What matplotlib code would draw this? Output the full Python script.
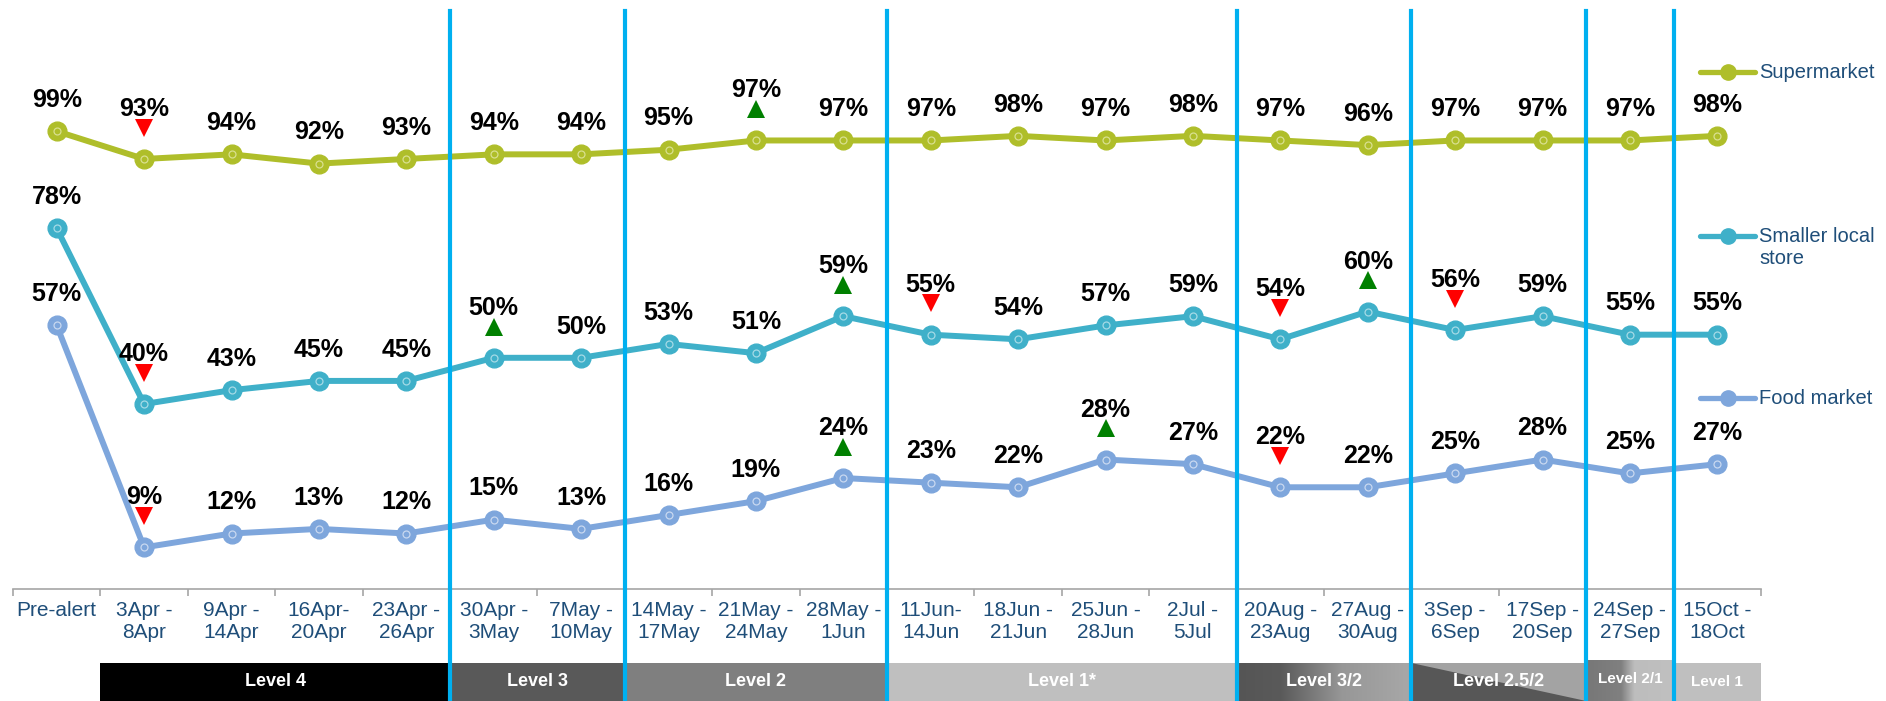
import numpy as np
import matplotlib
matplotlib.use("Agg")
import matplotlib.pyplot as plt
from matplotlib.lines import Line2D
from matplotlib.patches import Polygon, Rectangle
from matplotlib.colors import LinearSegmentedColormap
from matplotlib.transforms import offset_copy

# ---------------- data ----------------
periods = ["Pre-alert", "3Apr -\n8Apr", "9Apr -\n14Apr", "16Apr-\n20Apr", "23Apr -\n26Apr",
           "30Apr -\n3May", "7May -\n10May", "14May -\n17May", "21May -\n24May", "28May -\n1Jun",
           "11Jun-\n14Jun", "18Jun -\n21Jun", "25Jun -\n28Jun", "2Jul -\n5Jul",
           "20Aug -\n23Aug", "27Aug -\n30Aug", "3Sep -\n6Sep", "17Sep -\n20Sep",
           "24Sep -\n27Sep", "15Oct -\n18Oct"]

series_names = ["Supermarket", "Smaller local\nstore", "Food market"]

supermarket = [99, 93, 94, 92, 93, 94, 94, 95, 97, 97, 97, 98, 97, 98, 97, 96, 97, 97, 97, 98]
smaller_local = [78, 40, 43, 45, 45, 50, 50, 53, 51, 59, 55, 54, 57, 59, 54, 60, 56, 59, 55, 55]
food_market = [57, 9, 12, 13, 12, 15, 13, 16, 19, 24, 23, 22, 28, 27, 22, 22, 25, 28, 25, 27]

# significant change vs previous wave: +1 up, -1 down, 0 none
supermarket_change = [0, -1, 0, 0, 0, 0, 0, 0, 1, 0, 0, 0, 0, 0, 0, 0, 0, 0, 0, 0]
smaller_local_change = [0, -1, 0, 0, 0, 1, 0, 0, 0, 1, -1, 0, 0, 0, -1, 1, -1, 0, 0, 0]
food_market_change = [0, -1, 0, 0, 0, 0, 0, 0, 0, 1, 0, 0, 1, 0, -1, 0, 0, 0, 0, 0]

levels = ["Level 4", "Level 3", "Level 2", "Level 1*", "Level 3/2", "Level 2.5/2", "Level 2/1", "Level 1"]
level_first = [1, 5, 7, 10, 14, 16, 18, 19]
level_last = [4, 6, 9, 13, 15, 17, 18, 19]

# ---------------- styling ----------------
W, H = 1886, 701
FONT = "Liberation Sans"
TEXT_BLUE = "#1F4E79"
colors = ["#AFBE2A", "#3FB0C9", "#7EA6DC"]
highlights = ["#D9E08F", "#A4DAE6", "#C8D8F0"]
SEP_BLUE = "#00B0F0"

fig = plt.figure(figsize=(W / 100, H / 100), dpi=100)

# pixel layout
x_left, x_right = 13, 1761
y_top, y_axis = 11, 589
bar_h = 41
n = len(periods)

# level band axis (added first so the main axis draws on top)
bax = fig.add_axes([x_left / W, 0, (x_right - x_left) / W, bar_h / H])
bax.set_xlim(-0.5, n - 0.5)
bax.set_ylim(0, bar_h)
bax.axis("off")

ax = fig.add_axes([x_left / W, (H - y_axis) / H, (x_right - x_left) / W, (y_axis - y_top) / H])
ax.set_zorder(2)
ax.patch.set_alpha(0)
ax.set_xlim(-0.5, n - 0.5)
ax.set_ylim(0, 125)

x = np.arange(n)
all_series = [supermarket, smaller_local, food_market]
all_changes = [supermarket_change, smaller_local_change, food_market_change]

for vals, col, hl in zip(all_series, colors, highlights):
    ax.plot(x, vals, "-o", color=col, lw=4.3, ms=13.5, mfc=col, mec=col, zorder=4,
            solid_capstyle="round")
    ax.plot(x, vals, "o", ms=5, mfc="none", mec=hl, mew=0.9, zorder=5)

tri_trans = offset_copy(ax.transData, fig=fig, y=22.5, units="points")
for vals, chg in zip(all_series, all_changes):
    for i, (v, c) in enumerate(zip(vals, chg)):
        dy = 36 if c != 0 else 22.5
        ax.annotate(f"{v}%", (i, v), xytext=(0, dy), textcoords="offset points",
                    ha="center", va="center", fontsize=18, fontweight="bold",
                    family=FONT, color="black", zorder=6)
        if c > 0:
            ax.plot(i, v, marker="^", color="#008000", ms=13, transform=tri_trans,
                    zorder=7, mew=0)
        elif c < 0:
            ax.plot(i, v, marker="v", color="#FF0000", ms=13, transform=tri_trans,
                    zorder=7, mew=0)

# axes cosmetics
for s in ["left", "right", "top"]:
    ax.spines[s].set_visible(False)
ax.spines["bottom"].set_color("#A6A6A6")
ax.spines["bottom"].set_linewidth(1.2)
ax.set_yticks([])
ax.set_xticks(x)
ax.set_xticklabels(periods, fontsize=15, family=FONT, color=TEXT_BLUE, linespacing=1.15)
ax.tick_params(axis="x", which="major", length=0, pad=9)
ax.set_xticks(np.arange(-0.5, n, 1), minor=True)
ax.tick_params(axis="x", which="minor", length=5, width=1.2, color="#A6A6A6", direction="out")

# separators between alert levels, running down through the level band
frac_bottom = -(H - y_axis) / (y_axis - y_top)
for last in level_last[:-1]:
    ax.axvline(last + 0.5, ymin=frac_bottom, ymax=1, color=SEP_BLUE, lw=3,
               clip_on=False, zorder=10)

# ---------------- level band ----------------
band = 38


def grad(x0, x1, stops, h=band):
    cmap = LinearSegmentedColormap.from_list("g", stops)
    arr = np.linspace(0, 1, 256).reshape(1, -1)
    bax.imshow(arr, extent=[x0, x1, 0, h], aspect="auto", cmap=cmap,
               interpolation="bilinear", zorder=1)


fills = {
    "Level 4": "#000000",
    "Level 3": "#595959",
    "Level 2": "#7F7F7F",
    "Level 1*": "#BFBFBF",
    "Level 1": "#BFBFBF",
}
for name, a, b in zip(levels, level_first, level_last):
    x0, x1 = a - 0.5, b + 0.5
    h = band
    fs = 13
    if name in fills:
        bax.add_patch(Rectangle((x0, 0), x1 - x0, band, color=fills[name], lw=0,
                                clip_on=False))
        if name == "Level 1":
            fs = 11
    elif name == "Level 3/2":
        grad(x0, x1, [(0, "#555555"), (0.25, "#5A5A5A"), (0.6, "#979797"), (1, "#A8A8A8")])
    elif name == "Level 2.5/2":
        bax.add_patch(Rectangle((x0, 0), x1 - x0, band, color="#A3A3A3", lw=0))
        bax.add_patch(Polygon([(x0, band), (x1, 0), (x0, 0)], closed=True,
                              color="#575757", lw=0))
    elif name == "Level 2/1":
        h = bar_h
        fs = 11
        grad(x0, x1, [(0, "#777777"), (0.4, "#808080"), (0.55, "#BDBDBD"), (1, "#C0C0C0")], h=h)
    bax.text((x0 + x1) / 2, h / 2 + 0.5 if h == band else h / 2 + 1.5, name,
             ha="center", va="center", color="white", fontsize=fs,
             fontweight="bold", family=FONT, zorder=3)

# ---------------- legend ----------------
legend_y = [72, 236, 398]
for name, col, hl, ly in zip(series_names, colors, highlights, legend_y):
    yf = (H - ly) / H
    fig.add_artist(Line2D([1700 / W, 1755 / W], [yf, yf], color=col, lw=3.8,
                          transform=fig.transFigure, solid_capstyle="round"))
    fig.add_artist(Line2D([1727.5 / W], [yf], marker="o", ms=11, color=col,
                          transform=fig.transFigure))
    nlines = name.count("\n")
    fig.text(1759 / W, (H - ly - 12 * nlines) / H, name, ha="left", va="center",
             fontsize=14.5, family=FONT, color=TEXT_BLUE, linespacing=1.2)

fig.savefig("out.png", dpi=100)
